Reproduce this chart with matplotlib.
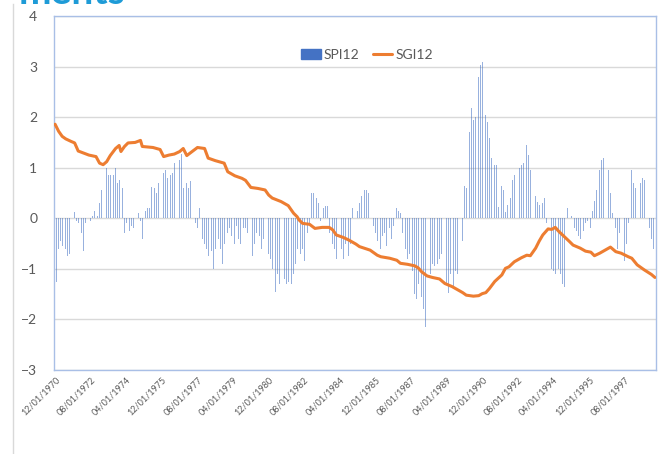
import matplotlib
matplotlib.use('Agg')
import matplotlib.pyplot as plt
from matplotlib.lines import Line2D
import pandas as pd

plt.rcParams['font.family'] = ['Lato', 'DejaVu Sans']

# monthly SPI12, starting 12/1970
spi12 = [
    -1.39, -1.25, -0.60, -0.45, -0.55, -0.35, -0.60, -0.75, -0.70, -0.55,
    -0.60, 0.13, -0.05, -0.10, -0.10, -0.30, -0.65, -0.10, -0.08, -0.05,
    -0.05, 0.05, 0.15, 0.12, 0.05, 0.30, 0.55, 0.90, 1.25, 1.00,
    0.85, 0.85, 0.80, 0.85, 1.00, 0.70, 0.75, 1.00, 0.60, -0.30,
    -0.10, -0.20, -0.25, -0.15, -0.20, 0.00, 0.85, 0.10, -0.05, -0.40,
    0.05, 0.15, 0.20, 0.20, 0.62, 0.55, 0.60, 0.50, 0.70, 1.25,
    0.55, 0.90, 0.95, 0.80, 0.95, 0.85, 0.90, 1.10, 1.20, 1.05,
    1.15, 1.27, 0.60, 0.65, 0.70, 0.60, 0.73, 0.35, 0.15, -0.10,
    -0.20, 0.20, -0.20, -0.40, -0.50, -0.60, -0.75, -0.80, -0.65, -1.00,
    -0.60, -0.50, -0.40, -0.60, -0.90, -0.50, -0.35, -0.30, -0.20, -0.35,
    -0.45, -0.50, -0.15, -0.40, -0.50, -0.55, -0.20, -0.20, -0.30, -0.50,
    -0.60, -0.75, -0.50, -0.30, -0.20, -0.35, -0.60, -0.40, -0.45, -0.50,
    -0.70, -0.80, -1.00, -1.20, -1.45, -1.10, -1.30, -1.35, -1.45, -1.20,
    -1.30, -1.25, -1.40, -1.30, -1.10, -0.90, -0.60, -0.90, -0.70, -0.60,
    -0.85, -0.90, -0.30, -0.10, 0.50, 0.50, 0.35, 0.40, 0.30, -0.05,
    0.10, 0.20, 0.25, 0.25, -0.30, -0.45, -0.50, -0.60, -0.80, -1.10,
    -0.55, -0.60, -0.80, -0.50, -0.90, -0.75, -0.50, 0.20, 0.20, 0.10,
    0.15, 0.30, 0.45, 0.55, 0.55, 0.55, 0.50, 0.35, 0.15, -0.15,
    -0.30, -0.45, -0.60, -0.60, -0.35, -0.30, -0.55, -0.25, -0.20, -0.40,
    -0.15, 0.05, 0.20, 0.15, 0.10, -0.30, -0.60, -0.60, -0.80, -0.70,
    -0.85, -1.05, -1.50, -1.60, -1.30, -1.50, -1.55, -1.80, -2.15, -1.40,
    -1.20, -1.10, -0.90, -0.95, -1.05, -0.90, -0.80, -0.70, -1.10, -1.00,
    -1.30, -1.48, -1.10, -1.20, -1.40, -1.05, -1.10, -0.80, -0.55, -0.45,
    0.63, 0.60, 1.15, 1.70, 2.18, 1.95, 2.00, 2.40, 2.80, 3.04,
    3.10, 2.38, 2.05, 1.90, 1.58, 1.20, 1.05, 1.05, 1.05, 0.23,
    0.45, 0.63, 0.55, 0.12, 0.26, 0.60, 0.40, 0.75, 0.85, 0.95,
    0.90, 1.00, 1.05, 1.10, 1.35, 1.45, 1.25, 0.95, 0.85, 0.60,
    0.45, 0.33, 0.26, 0.25, 0.30, 0.40, -0.10, -0.25, -0.92, -1.00,
    -1.05, -1.10, -1.10, -1.00, -1.10, -1.30, -1.35, 0.25, 0.20, 0.00,
    0.05, -0.05, -0.20, -0.25, -0.35, -0.40, -0.35, -0.25, -0.10, -0.05,
    -0.25, -0.20, 0.15, 0.35, 0.55, 0.80, 0.95, 1.15, 1.20, 1.20,
    1.30, 0.95, 0.50, 0.10, 0.05, -0.20, -0.60, -0.30, -0.55, -0.75,
    -0.85, -0.50, -0.10, 0.30, 0.95, 0.70, 0.60, 0.60, 0.65, 0.70,
    0.80, 0.75, 0.75, 0.00, -0.20, -0.40, -0.60, -0.80,
]

# SGI12: month index (from 12/1970) and value
sgi_month = [0, 2, 4, 6, 9, 11, 13, 16, 19, 23, 25, 27, 29, 31, 34, 36, 37, 39, 41, 45,
             48, 49, 55, 59, 61, 64, 67, 70, 72, 74, 77, 80, 84, 86, 90, 95, 97, 101, 105, 107,
             110, 114, 118, 120, 122, 127, 131, 134, 136, 137, 139, 143, 146, 150, 154, 156, 158, 162, 165, 169,
             171, 177, 181, 183, 188, 192, 194, 198, 202, 204, 206, 209, 212, 216, 219, 223, 226, 229, 231, 235,
             238, 240, 242, 244, 247, 251, 253, 255, 258, 262, 265, 267, 270, 272, 274, 277, 279, 281, 283, 286,
             289, 291, 295, 298, 301, 303, 306, 309, 312, 315, 318, 322, 324, 327, 331, 335, 337]
sgi12 = [1.86, 1.72, 1.62, 1.57, 1.52, 1.49, 1.33, 1.29, 1.25, 1.22, 1.09, 1.06, 1.12, 1.24, 1.38, 1.44, 1.32, 1.42, 1.49, 1.50,
         1.54, 1.42, 1.40, 1.36, 1.22, 1.25, 1.27, 1.32, 1.38, 1.24, 1.32, 1.40, 1.38, 1.19, 1.14, 1.09, 0.92, 0.84, 0.79, 0.75,
         0.61, 0.59, 0.56, 0.46, 0.40, 0.33, 0.25, 0.10, 0.03, -0.03, -0.10, -0.12, -0.20, -0.18, -0.18, -0.23, -0.33, -0.38, -0.43, -0.51,
         -0.56, -0.63, -0.73, -0.76, -0.79, -0.83, -0.89, -0.91, -0.94, -0.98, -1.06, -1.14, -1.17, -1.20, -1.29, -1.35, -1.41, -1.47, -1.52, -1.54,
         -1.53, -1.49, -1.47, -1.39, -1.25, -1.12, -0.99, -0.96, -0.86, -0.78, -0.73, -0.74, -0.59, -0.45, -0.33, -0.21, -0.22, -0.18, -0.26, -0.36,
         -0.46, -0.53, -0.59, -0.65, -0.67, -0.74, -0.69, -0.63, -0.57, -0.66, -0.69, -0.76, -0.79, -0.92, -1.02, -1.11, -1.17]

dates = pd.date_range('1970-12-01', periods=len(spi12), freq='MS')
labels = dates.strftime('%m/%d/%Y')
tick_step = 20

BLUE = '#4472C4'
ORANGE = '#ED7D31'
GREY_TXT = '#595959'
GRID = '#D9D9D9'
BORDER = '#A9BFE6'

fig = plt.figure(figsize=(6.59, 4.54), dpi=100)
ax = fig.add_axes([54 / 659, 1 - 370 / 454, 602 / 659, 354 / 454])

x = list(range(len(spi12)))
bars = ax.bar(x, spi12, width=0.4, color=BLUE, alpha=0.55, linewidth=0, zorder=2)
line, = ax.plot(sgi_month, sgi12, color=ORANGE, lw=2.2, zorder=3,
                solid_joinstyle='round', solid_capstyle='round')

ax.set_ylim(-3, 4)
ax.set_yticks(range(-3, 5))
ax.set_xlim(-0.6, len(spi12) - 0.4)
ax.set_xticks(x[::tick_step])
ax.set_xticklabels(labels[::tick_step], rotation=45, ha='right', va='top',
                   rotation_mode='anchor', fontsize=6.5, color=GREY_TXT)
ax.tick_params(axis='both', length=0)
ax.tick_params(axis='y', labelsize=10, labelcolor=GREY_TXT, pad=12)
ax.tick_params(axis='x', pad=4)

ax.grid(axis='y', color=GRID, lw=1)
ax.set_axisbelow(True)
for s in ax.spines.values():
    s.set_color(BORDER)
    s.set_linewidth(1)

legend_patch = matplotlib.patches.Patch(color=BLUE)
ax.legend([legend_patch, line], ['SPI12', 'SGI12'], loc='center',
          bbox_to_anchor=(0.52, 0.89), ncol=2, frameon=False,
          fontsize=10, labelcolor=GREY_TXT, handlelength=1.4, handletextpad=0.2,
          columnspacing=1.0)

# cut-off heading and slide border bits
fig.text(125 / 659, 1 - 4 / 454, 'ments', ha='right', va='baseline', fontsize=28,
         fontweight='bold', color='#1E9BD7')
fig.add_artist(Line2D([13 / 659, 13 / 659], [0, 1 - 4 / 454], color=GRID, lw=1,
                      transform=fig.transFigure))

fig.savefig('out.png', dpi=100)
